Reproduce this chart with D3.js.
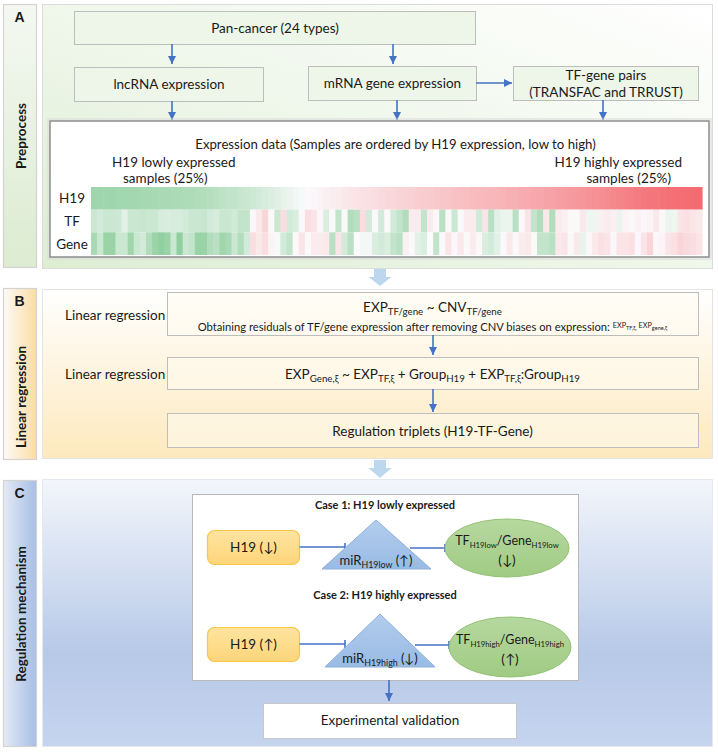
<!DOCTYPE html>
<html><head><meta charset="utf-8">
<script src="https://cdn.jsdelivr.net/npm/d3@7"></script>
<style>
body{margin:0;background:#fff}
svg{display:block}
text{font-family:Lato,"Open Sans",sans-serif;fill:#1a1a1a}
</style>
</head><body>
<svg id="c" width="718" height="752"></svg>
<script>
// ---------- data ----------
const rowNames = ["H19", "TF", "Gene"];
const h19Values = [-0.56,-0.55,-0.55,-0.56,-0.54,-0.54,-0.53,-0.54,-0.52,-0.52,
  -0.51,-0.5,-0.5,-0.49,-0.48,-0.47,-0.47,-0.45,-0.44,-0.42,
  -0.4,-0.38,-0.36,-0.34,-0.32,-0.3,-0.28,-0.25,-0.22,-0.19,
  -0.16,-0.13,-0.1,-0.06,-0.03,0.01,0.03,0.05,0.07,0.09,
  0.1,0.12,0.14,0.15,0.17,0.18,0.2,0.21,0.23,0.24,
  0.26,0.27,0.28,0.3,0.31,0.32,0.34,0.35,0.36,0.38,
  0.39,0.4,0.42,0.43,0.44,0.45,0.46,0.48,0.49,0.5,
  0.52,0.53,0.55,0.56,0.58,0.59,0.61,0.62,0.64,0.65,
  0.67,0.69,0.7,0.72,0.74,0.76,0.78,0.8,0.82,0.84,
  0.86,0.88,0.89,0.9,0.91,0.92,0.93,0.94,0.95,0.96];
const tfValues = [-0.3,-0.25,-0.3,-0.3,-0.28,-0.15,-0.3,-0.3,-0.32,-0.3,
  -0.3,-0.22,-0.2,-0.22,-0.22,-0.25,-0.3,-0.3,-0.32,-0.25,
  -0.22,-0.3,-0.3,-0.25,-0.35,-0.35,0.03,0.12,0.25,0.02,
  -0.3,0.2,-0.25,-0.2,0.02,0.2,0.15,0.03,-0.2,0.02,
  -0.35,0.02,-0.45,-0.4,0.2,-0.25,0.02,-0.25,0.02,-0.25,
  -0.35,-0.45,0.1,0.1,-0.35,0.1,0.03,-0.4,0.02,-0.3,
  0.02,0.1,0.1,-0.25,0.15,-0.4,-0.15,-0.1,-0.1,-0.4,
  0.02,0.15,-0.35,-0.45,0.12,-0.45,0.1,0.08,0.02,0.02,
  0.12,-0.08,-0.08,0.08,0.1,0.08,-0.1,0.05,0.02,0.06,
  0.03,0.05,0.12,0.02,-0.1,-0.08,0.15,0.18,0.15,0.12];
const geneValues = [-0.5,-0.3,-0.6,-0.6,-0.3,-0.3,-0.55,-0.3,-0.25,-0.45,
  -0.6,-0.65,-0.6,-0.3,-0.65,-0.3,-0.35,-0.6,-0.6,-0.45,
  -0.4,-0.55,-0.5,-0.3,-0.45,-0.25,0.2,0.12,0.2,0.05,
  -0.02,-0.25,-0.35,0.02,0.15,0.02,0.1,0.1,0.12,-0.4,
  0.15,-0.25,-0.4,0.0,-0.05,-0.05,-0.2,-0.25,-0.2,-0.35,
  -0.4,0.08,0.02,-0.15,-0.2,0.0,-0.35,0.02,0.15,0.03,
  0.12,0.02,0.1,0.02,-0.2,-0.25,-0.15,0.02,0.12,0.02,
  0.1,0.12,0.02,-0.35,-0.35,-0.4,0.12,0.15,0.02,0.12,
  -0.12,0.03,0.12,0.18,0.15,0.03,0.15,0.15,0.18,0.03,
  0.15,0.25,0.03,0.05,0.15,0.18,0.25,0.22,0.2,0.15];

// ---------- setup ----------
const svg = d3.select("#c");
const defs = svg.append("defs");
function grad(id, x1, y1, x2, y2, stops) {
  const g = defs.append("linearGradient").attr("id", id)
    .attr("x1", x1).attr("y1", y1).attr("x2", x2).attr("y2", y2);
  stops.forEach(([o, c]) => g.append("stop").attr("offset", o).attr("stop-color", c));
}
grad("gAmain", "1", "0", "0", "1", [["0", "#ffffff"], ["0.55", "#eef6e9"], ["1", "#ddedd3"]]);
grad("gAcol", "0", "0", "0", "1", [["0", "#f4f8f1"], ["1", "#dcebd1"]]);
grad("gBmain", "0", "0", "0", "1", [["0", "#ffffff"], ["1", "#fde9bd"]]);
grad("gBcol", "0", "0", "1", "0", [["0", "#fdfbf6"], ["1", "#fbdca4"]]);
grad("gCmain", "0", "0", "0", "1", [["0", "#f3f6fb"], ["0.65", "#b7c9e8"], ["1", "#c6d4ee"]]);
grad("gCcol", "0", "0", "1", "0", [["0", "#e4eaf5"], ["1", "#a6bde4"]]);
grad("gH19", "0", "0", "0", "1", [["0", "#fee4a0"], ["1", "#fdd57a"]]);
grad("gTri", "0", "0", "0", "1", [["0", "#b3cdec"], ["1", "#98bbe4"]]);
grad("gEll", "0", "0", "0", "1", [["0", "#b6d89f"], ["1", "#a0cb84"]]);

defs.append("marker").attr("id", "arr").attr("markerUnits", "userSpaceOnUse")
  .attr("markerWidth", 9).attr("markerHeight", 9).attr("refX", 8).attr("refY", 4)
  .attr("orient", "auto")
  .append("path").attr("d", "M0,0 L8,4 L0,8 z").attr("fill", "#4472c4");

function rect(x, y, w, h, fill, stroke, sw, rx) {
  return svg.append("rect").attr("x", x).attr("y", y).attr("width", w).attr("height", h)
    .attr("fill", fill).attr("stroke", stroke || "none").attr("stroke-width", sw || 1)
    .attr("rx", rx || 0);
}
function arrow(x1, y1, x2, y2) {
  svg.append("line").attr("x1", x1).attr("y1", y1).attr("x2", x2).attr("y2", y2)
    .attr("stroke", "#4472c4").attr("stroke-width", 1.6).attr("marker-end", "url(#arr)");
}
function inhib(x1, y, x2) {
  svg.append("line").attr("x1", x1).attr("y1", y).attr("x2", x2).attr("y2", y)
    .attr("stroke", "#4472c4").attr("stroke-width", 1.6);
  svg.append("line").attr("x1", x2).attr("y1", y - 4).attr("x2", x2).attr("y2", y + 4)
    .attr("stroke", "#4472c4").attr("stroke-width", 1.6);
}
function txt(x, y, s, size, anchor, weight) {
  return svg.append("text").attr("x", x).attr("y", y).attr("text-anchor", anchor || "middle")
    .style("font-size", size + "px").style("font-weight", weight || "normal").text(s);
}
// parts: [string, shift(px, + = down), scale]
function rich(x, y, parts, size, anchor) {
  const t = svg.append("text").attr("x", x).attr("y", y).attr("text-anchor", anchor || "middle")
    .style("font-size", size + "px");
  let cur = 0;
  parts.forEach(p => {
    const [s, sh, sc] = Array.isArray(p) ? p : [p, 0, 1];
    t.append("tspan").attr("dy", (sh || 0) - cur).style("font-size", (size * (sc || 1)) + "px").text(s);
    cur = sh || 0;
  });
  return t;
}
function colLabel(letter, y0, y1, label, labelCy) {
  const ly = (labelCy !== undefined) ? labelCy : (y0 + y1) / 2;
  svg.append("text").attr("x", 19.5).attr("y", y0 + 17).attr("text-anchor", "middle")
    .style("font-family", "'Liberation Sans',Arial,sans-serif").style("font-size", "14px")
    .style("font-weight", "bold").text(letter);
  svg.append("text").attr("transform", `translate(20.5,${ly}) rotate(-90)`).attr("y", 5)
    .attr("text-anchor", "middle").style("font-size", "13.5px").style("font-weight", "bold")
    .text(label);
}

// ---------- Panel A ----------
rect(3.5, 4.5, 33, 263, "url(#gAcol)", "#d3d3d3", 1.2);
rect(42.5, 4.5, 670, 264, "url(#gAmain)", "#dcdcdc", 1);
colLabel("A", 4.5, 267.5, "Preprocess");

const boxA = "#eef5e9", boxStroke = "#bdbdbd";
rect(74.5, 11.5, 401, 33, boxA, boxStroke);
txt(275, 32.5, "Pan-cancer (24 types)", 13.5);
rect(74.5, 67.5, 189, 34, boxA, boxStroke);
txt(169, 89, "lncRNA expression", 13.5);
rect(308.5, 66.5, 168, 34, boxA, boxStroke);
txt(392.5, 88, "mRNA gene expression", 13.5);
rect(513.5, 66.5, 185, 34, boxA, boxStroke);
txt(606, 80, "TF-gene pairs", 13.5);
txt(606, 97, "(TRANSFAC and TRRUST)", 13.5);

arrow(172, 44, 172, 64);
arrow(393, 44, 393, 64);
arrow(476, 83, 512, 83);
arrow(172, 101, 172, 120);
arrow(397, 100, 397, 120);
arrow(603, 100, 603, 120);

// expression data box
rect(48, 119, 663, 140, "none", "#dadada", 1);
rect(50, 121, 659, 136, "#ffffff", "#8c8c8c", 1.5);
txt(395.5, 148.5, "Expression data (Samples are ordered by H19 expression, low to high)", 13.2);
txt(112, 166.5, "H19 lowly expressed", 13.5, "start");
txt(123, 183, "samples (25%)", 13.5, "start");
txt(682, 166.5, "H19  highly expressed", 13.5, "end");
txt(671, 183, "samples (25%)", 13.5, "end");

// heatmap
const xCol = d3.scaleBand().domain(d3.range(h19Values.length)).range([91, 702]);
const yRow = d3.scaleBand().domain(rowNames).range([187, 255]);
const color = d3.scaleLinear().domain([-1, 0, 1]).range(["#57b86c", "#fbfbfd", "#f3646a"]);
const rows = [["H19", h19Values], ["TF", tfValues], ["Gene", geneValues]];
const hm = svg.append("g");
rows.forEach(([name, vals]) => {
  hm.selectAll(null).data(vals).enter().append("rect")
    .attr("x", (d, i) => xCol(i)).attr("y", yRow(name))
    .attr("width", xCol.bandwidth() + 0.6).attr("height", yRow.bandwidth())
    .attr("fill", d => color(d));
  txt(72, yRow(name) + yRow.bandwidth() / 2 + 5, name, 13.5);
});

// big arrow A -> B
function bigArrow(cx, y0, y1, y2) {
  svg.append("path").attr("d",
    `M${cx - 6},${y0} L${cx + 6},${y0} L${cx + 6},${y1} L${cx + 11.5},${y1} L${cx},${y2} L${cx - 11.5},${y1} L${cx - 6},${y1} Z`)
    .attr("fill", "#bdd7ee");
}
bigArrow(380, 269, 277, 286);

// ---------- Panel B ----------
rect(3.5, 288.5, 33, 171, "url(#gBcol)", "#d3d3d3", 1.2);
rect(42.5, 289.5, 670, 169, "url(#gBmain)", "#e4e4e4", 1);
colLabel("B", 288.5, 459.5, "Linear regression", 397);

const boxB = "rgba(255,252,240,0.55)";
txt(65, 320, "Linear regression", 13.5, "start");
rect(167.5, 292.5, 531, 43, boxB, boxStroke);
rich(432.5, 312, ["EXP", ["TF/gene", 3, 0.72], [" ~ CNV", 0, 1], ["TF/gene", 3, 0.72]], 13.5);
rich(432.5, 331, ["Obtaining residuals of TF/gene expression after removing CNV biases on expression: ",
  ["EXP", -3, 0.65], ["TF,ξ,", -1.5, 0.5], [" EXP", -3, 0.65], ["gene,ξ", -1.5, 0.5]], 11.2);
arrow(433, 335, 433, 355);

txt(65, 379, "Linear regression", 13.5, "start");
rect(167.5, 357.5, 531, 32, boxB, boxStroke);
rich(432.5, 378.5, ["EXP", ["Gene,ξ", 3, 0.72], [" ~ EXP", 0, 1], ["TF,ξ", 3, 0.72], [" + Group", 0, 1],
  ["H19", 3, 0.72], [" + EXP", 0, 1], ["TF,ξ", 3, 0.72], [":Group", 0, 1], ["H19", 3, 0.72]], 13.5);
arrow(433, 389, 433, 412);

rect(167.5, 413.5, 531, 34, boxB, boxStroke);
txt(432.5, 435.5, "Regulation triplets (H19-TF-Gene)", 13.5);

bigArrow(380, 460, 468, 478);

// ---------- Panel C ----------
rect(3.5, 480.5, 33, 266, "url(#gCcol)", "#d3d3d3", 1.2);
rect(42.5, 479.5, 670, 267, "url(#gCmain)", "#e4e8f0", 1);
colLabel("C", 480.5, 746.5, "Regulation mechanism", 614);

rect(192.5, 494.5, 386, 186, "#ffffff", "#b9b9b9", 1);

function caseRow(title, titleY, rowY, h19Label, tri, miRsub, miRdir, ell, tfSub, dir) {
  txt(385, titleY, title, 11, "middle", "bold");
  rect(207.5, rowY - 16.5, 92, 34, "url(#gH19)", "#f7c54a", 1.2, 7);
  txt(253.5, rowY + 5, h19Label, 13.5);
  inhib(299.5, rowY, 345);
  svg.append("path").attr("d", `M${tri.ax},${tri.ay} L${tri.bx2},${tri.by} L${tri.bx1},${tri.by} Z`)
    .attr("fill", "url(#gTri)").attr("stroke", "#8eaedb").attr("stroke-width", 1);
  rich(tri.ax, tri.by - 4, ["miR", [miRsub, 3, 0.68], [" " + miRdir, 0, 1]], 13);
  inhib(tri.ix, rowY + 1, ell.cx - ell.rx);
  svg.append("ellipse").attr("cx", ell.cx).attr("cy", ell.cy).attr("rx", ell.rx).attr("ry", ell.ry)
    .attr("fill", "url(#gEll)").attr("stroke", "#92c274").attr("stroke-width", 1);
  rich(ell.cx, ell.cy - 3, ["TF", [tfSub, 3, 0.62], ["/Gene", 0, 1], [tfSub, 3, 0.62]], 12.5);
  txt(ell.cx, ell.cy + 17, dir, 13.5);
}
caseRow("Case 1: H19 lowly expressed", 509, 547, "H19 (↓)",
  {ax: 376, ay: 520, bx1: 322, bx2: 431, by: 569, ix: 410}, "H19low", "(↑)",
  {cx: 507, cy: 548, rx: 62, ry: 29}, "H19low", "(↓)");
caseRow("Case 2: H19 highly expressed", 599, 644, "H19 (↑)",
  {ax: 380, ay: 614, bx1: 325, bx2: 435, by: 667, ix: 415}, "H19high", "(↓)",
  {cx: 510, cy: 647, rx: 61, ry: 30}, "H19high", "(↑)");

arrow(389, 680, 389, 701);
rect(263.5, 703.5, 253, 35, "#ffffff", "#c8c8c8", 1);
txt(390, 725, "Experimental validation", 13.5);
</script>
</body></html>
